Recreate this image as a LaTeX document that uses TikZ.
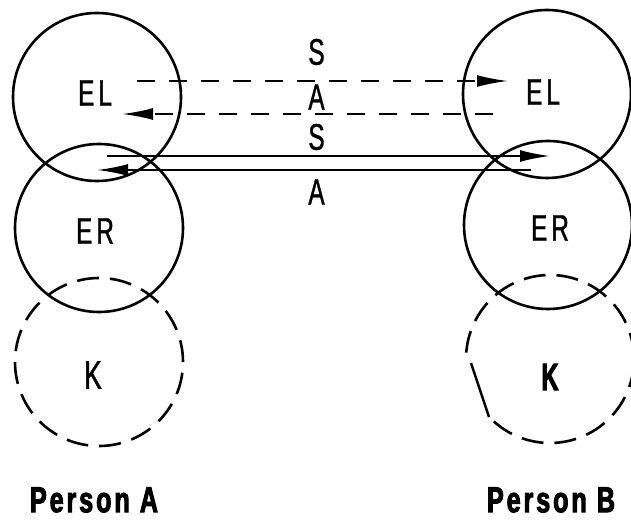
\documentclass[tikz,border=0pt]{standalone}
\usepackage{fontspec}
\usetikzlibrary{arrows.meta}
\newfontfamily\lblfont[FakeStretch=0.66,FakeBold=1]{Liberation Sans}
\newfontfamily\kbfont[FakeStretch=0.62,FakeBold=2.5]{Liberation Sans Bold}
\newfontfamily\persfont[FakeStretch=0.7,FakeBold=2.5,LetterSpace=8]{Liberation Sans Bold}
\begin{document}
\begin{tikzpicture}[x=1pt,y=1pt,
  ring/.style={circle,draw,line width=2.6pt,minimum size=168pt,inner sep=0pt},
  dring/.style={ring,dash pattern=on 22pt off 11pt},
  lbl/.style={font=\lblfont\fontsize{37}{37}\selectfont,inner sep=0pt},
  klbl/.style={font=\lblfont\fontsize{40}{40}\selectfont,inner sep=0pt},
  kblbl/.style={font=\kbfont\fontsize{38}{38}\selectfont,inner sep=0pt},
  pers/.style={font=\persfont\fontsize{36}{36}\selectfont,inner sep=0pt},
  tip/.style={-{Latex[length=31pt,width=12pt]}},
  dline/.style={line width=2.2pt,dash pattern=on 18pt off 14pt,tip},
  sline/.style={line width=2.8pt,tip}]
\useasboundingbox (0,0) rectangle (631,520);
% circles person A
\node[ring] (elA) at (97,423) {};
\node[ring] (erA) at (99,292) {};
\node[dring] (kA) at (99,158) {};
% circles person B
\node[ring] (elB) at (547,426) {};
\node[ring] (erB) at (548,295) {};
\coordinate (kB) at (550,161);
\draw[line width=2.6pt,dash pattern=on 22pt off 11pt] (kB) ++(228:84) arc[start angle=228,end angle=543,radius=84];
\coordinate (kBa) at (471,157);
\coordinate (kBb) at (489,103);
\draw[line width=2.4pt] (kBa) -- (kBb);
% labels
\node[lbl] (tELA) at (95,427) {E\kern4pt L};
\node[lbl] (tERA) at (95,289) {E\kern4pt R};
\node[klbl] (tKA) at (93,145) {K};
\node[lbl] (tELB) at (543,428) {E\kern4pt L};
\node[lbl] (tERB) at (550,292) {E\kern4pt R};
\node[kblbl] (tKB) at (550,143) {K};
\node[lbl] (s1) at (316.5,468) {S};
\node[lbl] (a1) at (316.5,423) {A};
\node[lbl] (s2) at (316.5,383) {S};
\node[lbl] (a2) at (316.5,328) {A};
\node[pers] (pA) at (94,20) {Person\hspace{10pt}A};
\node[pers] (pB) at (551,20) {Person\hspace{10pt}B};
% connector end points
\coordinate (d1s) at (137,439);
\coordinate (d1e) at (508,439);
\coordinate (d2s) at (493,406);
\coordinate (d2e) at (122,406);
\coordinate (s1s) at (107,364);
\coordinate (s1e) at (551,364);
\coordinate (s2s) at (531,350);
\coordinate (s2e) at (97,350);
\draw[dline] (d1s) -- (d1e);
\draw[dline] (d2s) -- (d2e);
\draw[sline] (s1s) -- (s1e);
\draw[sline,line width=2.2pt] (s2s) -- (s2e);
\end{tikzpicture}
\end{document}
